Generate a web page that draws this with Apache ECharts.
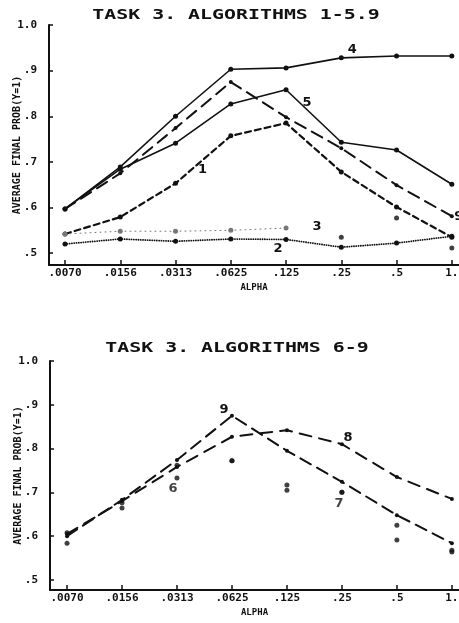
<!DOCTYPE html>
<html>
<head>
<meta charset="utf-8">
<script src="https://cdn.jsdelivr.net/npm/echarts@6/dist/echarts.min.js"></script>
<style>
  html, body { margin: 0; padding: 0; background: #fff; }
  #chart { width: 459px; height: 623px; }
</style>
</head>
<body>
<div id="chart"></div>
<script>
// alpha values along the x axis (same for both panels)
var alphaLabels = ['.0070', '.0156', '.0313', '.0625', '.125', '.25', '.5', '1.'];
var yTicks = [0.5, 0.6, 0.7, 0.8, 0.9, 1.0];

// top panel: algorithms 1-5, 9
var algo1 = [0.542, 0.579, 0.653, 0.757, 0.785, 0.678, 0.601, 0.535];
var algo2 = [0.520, 0.531, 0.526, 0.531, 0.530, 0.513, 0.522, 0.537];
var algo3 = [0.542, 0.548, 0.548, 0.550, 0.555, 0.535, 0.577, 0.511];
var algo4 = [0.597, 0.689, 0.800, 0.903, 0.906, 0.928, 0.932, 0.932];
var algo5 = [0.597, 0.684, 0.741, 0.827, 0.858, 0.743, 0.726, 0.651];
var algo9top = [0.597, 0.675, 0.774, 0.875, 0.798, 0.730, 0.649, 0.581];

// bottom panel: algorithms 6-9
var algo6 = [0.584, 0.664, 0.733, 0.772, 0.717, 0.700, 0.625, 0.564];
var algo7 = [0.608, 0.676, 0.762, 0.772, 0.705, 0.700, 0.591, 0.568];
var algo8 = [0.605, 0.680, 0.758, 0.827, 0.842, 0.810, 0.735, 0.685];
var algo9 = [0.600, 0.683, 0.774, 0.875, 0.795, 0.724, 0.648, 0.584];

var INK = '#111';
var MONO = 'DejaVu Sans Mono';

function pts(arr, labelAt, labelText, offset, from, to) {
  var out = [];
  arr.forEach(function (v, i) {
    if (from !== undefined && (i < from || i > to)) return;
    var item = { value: [i, v] };
    if (i === labelAt) {
      item.label = {
        show: true, formatter: labelText, position: 'inside', offset: offset,
        color: INK, fontSize: 13, fontWeight: 'bold', fontFamily: 'DejaVu Sans'
      };
    }
    out.push(item);
  });
  return out;
}

function lineSeries(idx, data, dash, width, color, symSize) {
  return {
    type: 'line', xAxisIndex: idx, yAxisIndex: idx, data: data,
    symbol: 'circle', symbolSize: symSize, showAllSymbol: true,
    itemStyle: { color: color },
    lineStyle: { color: color, width: width, type: dash, cap: 'round' },
    label: { show: false }, silent: true, animation: false
  };
}

function dotSeries(idx, data, size) {
  return {
    type: 'scatter', xAxisIndex: idx, yAxisIndex: idx, data: data,
    symbol: 'circle', symbolSize: size, itemStyle: { color: INK },
    label: { show: false }, silent: true, animation: false
  };
}

function xAx(idx, minV) {
  return {
    type: 'value', gridIndex: idx, min: minV, max: 7.13,
    name: 'ALPHA', nameLocation: 'middle', nameGap: 18, nameMoveOverlap: false,
    nameTextStyle: { fontFamily: MONO, fontWeight: 'bold', fontSize: 9, color: INK },
    axisLine: { show: true, onZero: false, lineStyle: { color: INK, width: 2 } },
    axisTick: { show: true, inside: true, length: 5, customValues: [0, 1, 2, 3, 4, 5, 6, 7], lineStyle: { color: INK, width: 1.5 } },
    axisLabel: {
      customValues: [0, 1, 2, 3, 4, 5, 6, 7], margin: 3,
      formatter: function (v) { return alphaLabels[Math.round(v)]; },
      fontFamily: MONO, fontWeight: 'bold', fontSize: 11, color: INK
    },
    splitLine: { show: false }
  };
}

function yAx(idx, minV) {
  return {
    type: 'value', gridIndex: idx, min: minV, max: 1.0,
    name: 'AVERAGE FINAL PROB(Y=1)', nameLocation: 'middle', nameGap: 27, nameMoveOverlap: false,
    nameTextStyle: { fontFamily: MONO, fontWeight: 'bold', fontSize: 10, color: INK },
    axisLine: { show: true, onZero: false, lineStyle: { color: INK, width: 2 } },
    axisTick: { show: true, inside: true, length: 4, customValues: yTicks, lineStyle: { color: INK, width: 1.5 } },
    axisLabel: {
      customValues: yTicks, margin: 12,
      formatter: function (v) { return v >= 0.999 ? '1.0' : '.' + Math.round(v * 10); },
      fontFamily: MONO, fontWeight: 'bold', fontSize: 11, color: INK
    },
    splitLine: { show: false }
  };
}

var chart = echarts.init(document.getElementById('chart'));
chart.setOption({
  backgroundColor: '#fff',
  animation: false,
  graphic: [
    { type: 'text', x: 236, y: 15, scaleX: 1.42, silent: true,
      style: { text: 'TASK 3. ALGORITHMS 1-5.9', fill: INK, font: 'bold 14px "DejaVu Sans Mono"', textAlign: 'center', textVerticalAlign: 'middle' } },
    { type: 'text', x: 237, y: 348, scaleX: 1.42, silent: true,
      style: { text: 'TASK 3. ALGORITHMS 6-9', fill: INK, font: 'bold 14px "DejaVu Sans Mono"', textAlign: 'center', textVerticalAlign: 'middle' } }
  ],
  grid: [
    { left: 49, top: 25, width: 410, height: 240, outerBoundsMode: 'none', containLabel: false },
    { left: 50, top: 361, width: 409, height: 229, outerBoundsMode: 'none', containLabel: false }
  ],
  xAxis: [xAx(0, -0.29), xAx(1, -0.31)],
  yAxis: [yAx(0, 0.474), yAx(1, 0.477)],
  series: [
    lineSeries(0, pts(algo4, 5, '4', [11, -8]), 'solid', 1.6, INK, 5),
    lineSeries(0, pts(algo5, 4, '5', [21, 13]), 'solid', 1.6, INK, 5),
    lineSeries(0, pts(algo9top, 7, '9', [7, 0]), [12, 7], 2, INK, 4),
    lineSeries(0, pts(algo1, 2, '1', [27, -14]), [6, 4], 2.2, INK, 5),
    lineSeries(0, pts(algo2, 4, '2', [-8, 9]), [0.1, 2.2], 1.8, INK, 5),
    lineSeries(0, pts(algo3, 4, '3', [31, -1], 0, 4), [1, 4], 1, '#777', 5),
    dotSeries(0, pts(algo3, -1, '', [0, 0], 5, 7), 5),

    lineSeries(1, pts(algo9, 3, '9', [-8, -6]), [12, 7], 2, INK, 4),
    lineSeries(1, pts(algo8, 5, '8', [6, -7]), [12, 8], 2, INK, 4),
    dotSeries(1, pts(algo6, 2, '6', [-4, 11]), 5),
    dotSeries(1, pts(algo7, 5, '7', [-3, 11]), 5)
  ]
});
</script>
</body>
</html>
